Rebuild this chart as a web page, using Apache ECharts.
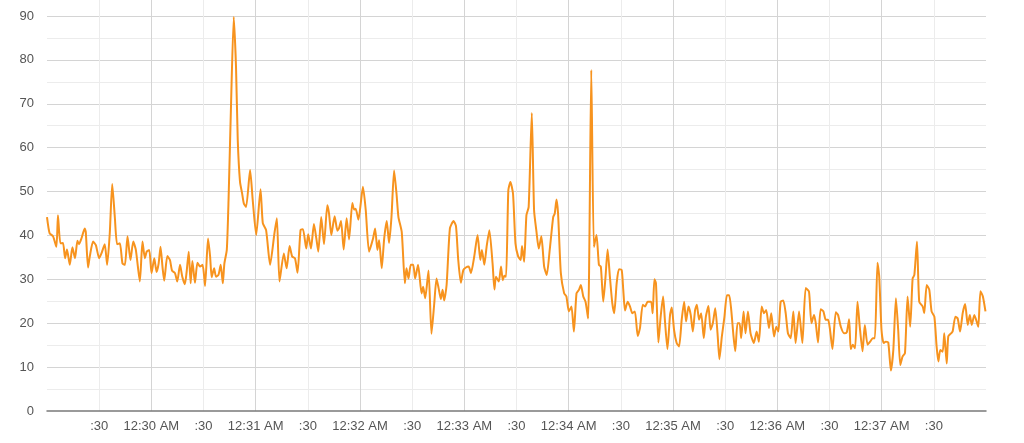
<!DOCTYPE html>
<html>
<head>
<meta charset="utf-8">
<script src="https://cdn.jsdelivr.net/npm/echarts@6/dist/echarts.min.js"></script>
<style>
  html, body { margin: 0; padding: 0; background: #ffffff; }
  #chart { width: 1024px; height: 443px; }
</style>
</head>
<body>
<div id="chart"></div>
<script>
// Start of the window: 12:29:00 AM, in seconds of the day
const startSeconds = 29 * 60;
const endSeconds = 38 * 60;

// Elapsed seconds since 12:29:00 AM for each reading
const elapsed = [
  0, 1.5, 3.5, 5.4, 6.3, 7.7, 9.2, 10.4, 11.5, 13.1, 14.6, 16.1, 17.5, 18.4, 19.8, 21.7, 22.3, 23.6, 24.6, 26.5,
  28.1, 30.0, 31.3, 33.2, 34.6, 36.1, 37.5, 39.0, 40.3, 41.9, 43.4, 44.8, 46.3, 48.0, 49.6, 51.1, 53.4, 54.9, 56.3, 57.3,
  58.8, 60.1, 61.7, 63.0, 64.2, 65.3, 66.5, 67.4, 69.2, 70.7, 71.9, 73.6, 74.9, 76.5, 77.8, 79.3, 80.3, 81.5, 82.6, 83.6,
  85.1, 86.5, 88.0, 89.5, 90.9, 92.6, 93.8, 94.7, 96.1, 97.2, 98.6, 99.9, 101.1, 102.0, 103.4, 104.4, 105.9, 107.4, 108.7, 109.7,
  111.0, 112.2, 113.2, 114.5, 116.8, 118.3, 120.3, 122.8, 124.1, 126.0, 128.3, 130.8, 132.2, 133.7, 136.2, 137.8, 139.5, 141.0, 142.6, 144.1,
  145.8, 147.2, 149.1, 150.2, 151.8, 153.5, 154.9, 156.0, 157.7, 159.3, 161.2, 162.2, 163.5, 165.4, 167.0, 167.9, 169.1, 170.6, 172.3, 173.7,
  175.6, 176.6, 177.5, 179.1, 181.7, 183.3, 185.2, 187.5, 188.7, 190.0, 191.0, 192.5, 193.9, 195.4, 196.7, 198.1, 199.6, 201.0, 202.1, 204.0,
  205.8, 206.7, 207.9, 209.2, 210.6, 211.7, 213.4, 215.4, 216.3, 217.5, 219.4, 221.1, 222.7, 224.0, 225.2, 226.5, 227.5, 228.4, 229.8, 231.7,
  233.8, 235.2, 236.5, 238.0, 239.4, 240.9, 242.5, 243.8, 245.7, 247.6, 249.2, 250.1, 251.5, 252.8, 254.4, 256.3, 257.3, 258.2, 259.8, 261.1,
  262.1, 263.0, 264.0, 265.3, 266.5, 268.0, 269.4, 270.9, 272.4, 273.2, 274.4, 275.7, 277.0, 278.8, 280.1, 281.5, 282.8, 284.3, 285.9, 287.4,
  289.1, 291.1, 292.0, 293.0, 293.9, 295.5, 297.4, 298.7, 300.1, 301.6, 303.0, 304.5, 305.9, 307.0, 308.4, 309.7, 311.2, 313.0, 314.5, 316.0,
  317.4, 318.5, 319.9, 321.2, 322.4, 323.7, 325.1, 326.2, 327.6, 328.9, 330.5, 331.4, 332.4, 333.9, 335.3, 336.6, 338.1, 339.7, 341.0, 342.6,
  343.9, 345.4, 347.4, 348.3, 349.3, 350.2, 351.6, 352.9, 354.3, 355.4, 356.8, 358.3, 359.3, 360.6, 362.1, 363.5, 365.0, 366.4, 367.5, 368.9,
  370.2, 371.4, 372.7, 373.7, 375.0, 376.2, 377.7, 378.9, 380.4, 381.6, 382.9, 384.3, 385.6, 386.7, 388.1, 389.6, 391.0, 392.3, 393.5, 394.8,
  395.8, 397.1, 398.3, 399.2, 400.6, 401.7, 403.1, 404.6, 406.5, 408.1, 409.4, 411.0, 412.3, 413.6, 415.2, 416.5, 418.1, 419.4, 420.6, 421.9,
  423.4, 424.8, 426.1, 427.7, 429.2, 430.5, 432.5, 434.4, 436.3, 438.2, 439.6, 441.1, 442.1, 443.4, 444.9, 446.5, 447.8, 449.2, 450.3, 451.7,
  453.6, 454.9, 456.5, 458.4, 459.9, 461.3, 462.2, 463.4, 464.7, 466.1, 467.4, 469.0, 470.3, 471.9, 473.4, 474.9, 476.1, 477.6, 478.6, 479.9,
  481.1, 482.4, 483.8, 485.3, 486.7, 488.2, 489.5, 490.7, 492.0, 493.4, 494.9, 496.4, 497.8, 498.8, 500.3, 501.6, 503.6, 504.5, 505.9, 507.4,
  508.7, 510.3, 511.6, 512.6, 513.7, 515.1, 516.0, 517.4, 518.3, 519.9, 520.8, 522.4, 523.7, 525.1, 526.6, 528.0, 529.5, 530.7, 531.8, 533.3,
  534.9, 535.6, 536.8, 538.2, 539.7
];

const values = [
  44.2, 40.5, 39.8, 37.4, 44.6, 38.2, 38.3, 34.8, 36.8, 33.3, 37.3, 34.8, 38.8, 38.0, 39.3, 41.6, 40.8, 32.7, 35.2, 38.6,
  37.8, 34.8, 35.9, 38.0, 33.3, 40.5, 51.7, 44.2, 38.0, 38.2, 33.6, 33.3, 39.8, 34.4, 38.6, 36.7, 29.5, 38.6, 34.8, 36.3,
  36.7, 31.4, 34.8, 31.7, 33.6, 37.4, 32.5, 29.7, 35.3, 34.4, 32.0, 31.4, 29.5, 33.3, 30.6, 28.9, 31.7, 36.3, 29.1, 34.2,
  29.2, 33.8, 32.9, 33.3, 28.5, 39.3, 35.2, 30.5, 32.5, 30.6, 31.0, 33.3, 29.1, 33.6, 36.7, 48.0, 70.8, 89.8, 78.4, 61.7,
  52.2, 49.6, 47.3, 46.5, 54.9, 48.1, 40.1, 50.5, 42.8, 41.2, 33.3, 40.5, 43.9, 29.5, 35.9, 32.5, 37.6, 35.2, 34.8, 31.5,
  41.2, 41.4, 37.0, 40.3, 37.0, 42.6, 39.3, 36.3, 44.2, 38.0, 46.9, 45.0, 40.1, 44.4, 41.1, 41.6, 43.3, 36.8, 43.9, 39.1,
  47.4, 45.9, 46.1, 43.6, 51.1, 45.8, 36.3, 39.3, 41.6, 36.7, 38.9, 32.5, 39.3, 43.3, 38.3, 44.2, 54.8, 49.5, 44.2, 40.8,
  29.1, 32.5, 30.2, 33.3, 33.3, 30.2, 33.3, 26.8, 28.3, 25.7, 32.0, 17.6, 24.5, 30.2, 28.0, 25.5, 27.6, 25.2, 28.7, 41.6,
  43.3, 42.1, 34.4, 29.2, 32.1, 32.7, 32.9, 31.4, 35.2, 40.1, 34.4, 36.7, 33.3, 37.4, 41.2, 33.3, 27.7, 30.6, 29.5, 32.9,
  29.8, 30.8, 30.6, 50.3, 52.2, 49.5, 38.2, 35.3, 34.4, 37.6, 34.0, 44.6, 46.5, 67.9, 45.8, 40.8, 37.0, 39.8, 32.9, 31.0,
  36.7, 44.2, 45.0, 48.2, 45.0, 31.4, 26.8, 26.1, 22.7, 23.8, 18.1, 26.8, 27.6, 28.7, 26.1, 24.9, 21.1, 77.7, 37.4, 40.1,
  33.3, 32.9, 24.9, 30.6, 36.8, 30.6, 24.5, 22.3, 29.1, 32.3, 32.1, 27.6, 22.9, 24.9, 23.8, 22.3, 22.7, 17.1, 18.9, 24.2,
  23.8, 24.9, 24.9, 22.3, 30.0, 29.1, 15.6, 21.5, 26.1, 20.4, 14.1, 21.9, 23.6, 18.5, 15.5, 14.7, 20.8, 24.9, 20.4, 23.8,
  21.9, 18.1, 23.0, 24.2, 20.8, 22.3, 16.6, 21.5, 23.9, 18.5, 20.0, 23.4, 17.7, 11.8, 17.0, 21.5, 26.4, 26.4, 23.0, 17.0,
  13.6, 20.0, 20.0, 16.6, 22.7, 17.7, 22.7, 17.7, 15.5, 18.1, 15.8, 23.8, 22.3, 23.0, 18.9, 22.3, 17.0, 19.2, 18.1, 24.9,
  25.2, 22.3, 17.7, 16.6, 22.7, 15.5, 22.7, 15.5, 28.0, 27.2, 20.0, 21.9, 20.0, 15.6, 23.2, 22.7, 20.8, 20.8, 18.5, 14.1,
  22.5, 21.9, 19.2, 17.7, 17.9, 20.9, 14.1, 15.1, 14.3, 24.9, 19.2, 13.6, 19.6, 15.1, 15.8, 16.6, 16.6, 33.8, 30.6, 18.5,
  15.5, 15.8, 15.6, 9.2, 13.9, 25.7, 18.5, 10.5, 12.4, 13.2, 26.1, 19.2, 30.2, 31.0, 38.6, 24.9, 23.8, 22.3, 28.7, 27.6,
  22.7, 21.5, 14.7, 11.3, 13.9, 13.5, 17.7, 10.8, 17.0, 17.7, 18.1, 21.5, 21.1, 18.1, 22.3, 24.4, 19.6, 21.9, 19.6, 21.9,
  20.0, 19.2, 27.3, 26.1, 22.7
];

// Axis settings (tick values)
const yTickStep = 5;
const yLabelStep = 10;
const yMax = 93.65;
const xTickStep = 30;

function pad(n) { return (n < 10 ? '0' : '') + n; }
function clockLabel(sec) {
  const s = Math.round(sec);
  if (s % 60 === 30) return ':30';
  const totalMin = Math.floor(s / 60);
  const h = Math.floor(totalMin / 60);
  const m = totalMin % 60;
  const h12 = h % 12 === 0 ? 12 : h % 12;
  return h12 + ':' + pad(m) + ' ' + (h < 12 ? 'AM' : 'PM');
}

const seriesData = elapsed.map((t, i) => [startSeconds + t, values[i]]);

const chart = echarts.init(document.getElementById('chart'), null, { renderer: 'canvas' });
chart.setOption({
  animation: false,
  backgroundColor: '#ffffff',
  textStyle: { fontFamily: 'Liberation Sans, Arial, sans-serif' },
  grid: { left: 47, right: 38, top: 0, bottom: 32, containLabel: false },
  xAxis: {
    type: 'value',
    min: startSeconds,
    max: endSeconds,
    interval: xTickStep,
    axisLine: { show: true, lineStyle: { color: '#7a7a7a', width: 1.5 } },
    axisTick: { show: false },
    axisLabel: {
      show: true,
      margin: 9,
      color: '#555555',
      fontSize: 13,
      fontFamily: 'Liberation Sans, Arial, sans-serif',
      showMinLabel: false,
      showMaxLabel: false,
      formatter: clockLabel
    },
    splitLine: {
      show: true,
      showMinLine: false,
      showMaxLine: false,
      lineStyle: { color: ['#ececec', '#d4d4d4'], width: 1 }
    }
  },
  yAxis: {
    type: 'value',
    min: 0,
    max: yMax,
    interval: yTickStep,
    axisLine: { show: false },
    axisTick: { show: false },
    axisLabel: {
      show: true,
      margin: 13,
      color: '#555555',
      fontSize: 13,
      fontFamily: 'Liberation Sans, Arial, sans-serif',
      showMaxLabel: false,
      formatter: function (v) {
        return (Math.abs(v % yLabelStep) < 1e-6) ? String(v) : '';
      }
    },
    splitLine: {
      show: true,
      showMinLine: false,
      showMaxLine: false,
      lineStyle: { color: ['#ececec', '#d4d4d4'], width: 1 }
    }
  },
  series: [{
    type: 'line',
    data: seriesData,
    showSymbol: false,
    smooth: 0.2,
    lineStyle: { color: '#f7931e', width: 2 },
    itemStyle: { color: '#f7931e' }
  }]
});
</script>
</body>
</html>
